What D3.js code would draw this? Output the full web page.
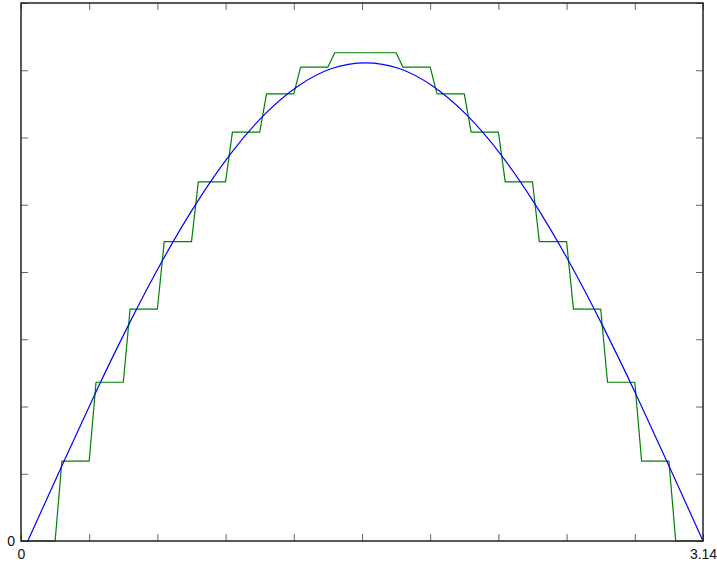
<!DOCTYPE html>
<html>
<head>
<meta charset="utf-8">
<script src="https://cdn.jsdelivr.net/npm/d3@7"></script>
<style>
  html, body { margin: 0; padding: 0; background: #fff; }
  svg { display: block; }
  .axis text { font-family: "Liberation Sans", Arial, sans-serif; font-size: 14px; fill: #111; }
</style>
</head>
<body>
<svg id="chart" width="717" height="567"></svg>
<script>
// Sample index along the horizontal axis (0..100), labelled in radians at the ends
const xDomain = [0, 100];
const xTicks = [0, 10, 20, 30, 40, 50, 60, 70, 80, 90, 100];
const xTickLabels = { 0: "0", 100: "3.14" };

const yDomain = [0, 1.125];
const yTicks = [0, 0.140625, 0.28125, 0.421875, 0.5625, 0.703125, 0.84375, 0.984375, 1.125];
const yTickLabels = { 0: "0" };

// Continuous signal (sample index, amplitude)
const sineX = [1, 5.95, 10.9, 15.85, 20.8, 25.75, 30.7, 35.65, 40.6, 45.55, 50.5,
               55.45, 60.4, 65.35, 70.3, 75.25, 80.2, 85.15, 90.1, 95.05, 100];
const sineY = [0, 0.156, 0.309, 0.454, 0.588, 0.707, 0.809, 0.891, 0.951, 0.988, 1.0,
               0.988, 0.951, 0.891, 0.809, 0.707, 0.588, 0.454, 0.309, 0.156, 0];

// Held levels, one per block of five samples
const blockStart = [1, 6, 11, 16, 21, 26, 31, 36, 41, 46, 51, 56, 61, 66, 71, 76, 81, 86, 91, 96];
const blockEnd   = [5, 10, 15, 20, 25, 30, 35, 40, 45, 50, 55, 60, 65, 70, 75, 80, 85, 90, 95, 100];
const heldLevel  = [0, 0.167, 0.332, 0.485, 0.626, 0.751, 0.855, 0.935, 0.991, 1.021,
                    1.021, 0.991, 0.935, 0.855, 0.751, 0.626, 0.485, 0.332, 0.167, 0];

const svg = d3.select("#chart");
const plot = { left: 21, right: 703, top: 3, bottom: 541 };

const x = d3.scaleLinear().domain(xDomain).range([plot.left, plot.right]);
const y = d3.scaleLinear().domain(yDomain).range([plot.bottom, plot.top]);

svg.append("rect").attr("width", 717).attr("height", 567).attr("fill", "#fff");

// Inward ticks on all four sides
const tickLen = 7;
function styleAxis(g) {
  g.attr("class", "axis");
  g.select(".domain").remove();
  g.selectAll(".tick line").attr("stroke", "#666").attr("stroke-width", 1);
}
svg.append("g").attr("transform", `translate(0,${plot.bottom})`)
  .call(d3.axisBottom(x).tickValues(xTicks).tickSize(-tickLen).tickPadding(8)
    .tickFormat(d => xTickLabels[d] || ""))
  .call(styleAxis);
svg.append("g").attr("transform", `translate(0,${plot.top})`)
  .call(d3.axisTop(x).tickValues(xTicks).tickSize(-tickLen).tickFormat(""))
  .call(styleAxis);
svg.append("g").attr("transform", `translate(${plot.left},0)`)
  .call(d3.axisLeft(y).tickValues(yTicks).tickSize(-tickLen).tickPadding(6)
    .tickFormat(d => yTickLabels[d] || ""))
  .call(styleAxis);
svg.append("g").attr("transform", `translate(${plot.right},0)`)
  .call(d3.axisRight(y).tickValues(yTicks).tickSize(-tickLen).tickFormat(""))
  .call(styleAxis);

svg.selectAll(".axis text").attr("font-family", "Liberation Sans, Arial, sans-serif")
  .attr("font-size", 14).attr("fill", "#111");

// Sample-and-hold staircase
const stairPts = [[xDomain[0], heldLevel[0]]];
blockStart.forEach((s, i) => {
  stairPts.push([s, heldLevel[i]]);
  stairPts.push([blockEnd[i], heldLevel[i]]);
});
const line = d3.line().x(d => x(d[0])).y(d => y(d[1]));
svg.append("path")
  .attr("d", line(stairPts))
  .attr("fill", "none").attr("stroke", "#008000").attr("stroke-width", 1.2)
  .attr("stroke-linejoin", "round");

// Smooth signal
const sinePts = sineX.map((v, i) => [v, sineY[i]]);
svg.append("path")
  .attr("d", line.curve(d3.curveNatural)(sinePts))
  .attr("fill", "none").attr("stroke", "#0000ff").attr("stroke-width", 1.2);

// Plot frame
svg.append("rect")
  .attr("x", plot.left).attr("y", plot.top)
  .attr("width", plot.right - plot.left).attr("height", plot.bottom - plot.top)
  .attr("fill", "none").attr("stroke", "#222").attr("stroke-width", 1.5);
</script>
</body>
</html>
